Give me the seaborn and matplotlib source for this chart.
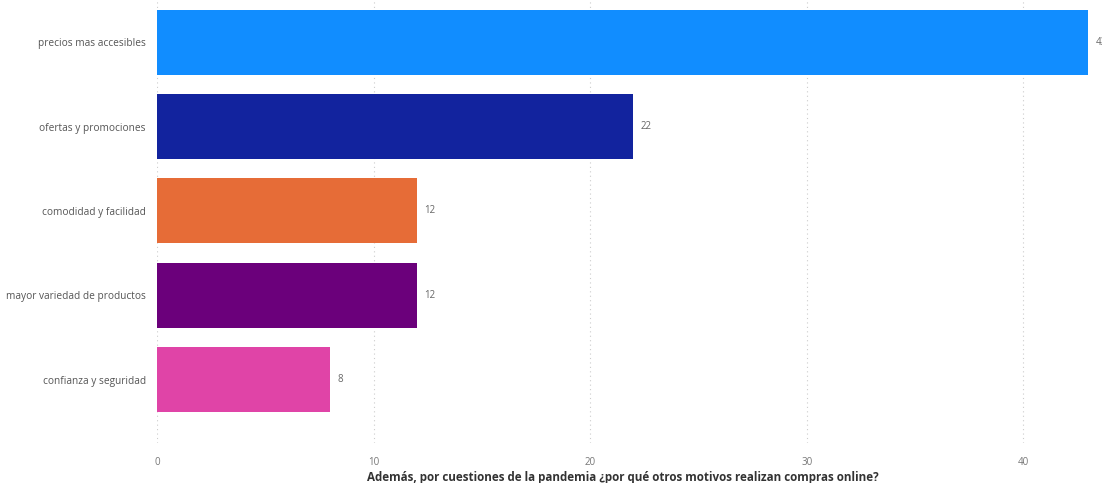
import matplotlib
matplotlib.use("Agg")

import matplotlib.pyplot as plt
import seaborn as sns
import pandas as pd


# =====================================
# DATA
# =====================================

motivos = [
    "precios mas accesibles",
    "ofertas y promociones",
    "comodidad y facilidad",
    "mayor variedad de productos",
    "confianza y seguridad"
]

cantidades = [43, 22, 12, 12, 8]

colores = ["#118DFF", "#12239E", "#E66C37", "#6B007B", "#E044A7"]

x_ticks = [0, 10, 20, 30, 40]

x_label = "Además, por cuestiones de la pandemia ¿por qué otros motivos realizan compras online?"

df = pd.DataFrame({"motivo": motivos, "cantidad": cantidades})


# =====================================
# PLOT
# =====================================

sns.set_style("white")
plt.rcParams["font.family"] = ["Open Sans", "DejaVu Sans"]

fig = plt.figure(figsize=(11.02, 4.83), dpi=100)
ax = fig.add_axes([0.1425, 0.083, 0.845, 0.917])

sns.barplot(
    data=df,
    x="cantidad",
    y="motivo",
    hue="motivo",
    palette=colores,
    orient="h",
    width=0.77,
    legend=False,
    saturation=1,
    linewidth=0,
    ax=ax
)

# value labels (the top one runs off the right edge, as in the source)
for i, v in enumerate(cantidades):
    ax.text(
        v + 0.35, i, str(v),
        va="center", ha="left",
        fontsize=7, color="#666666",
        clip_on=False
    )

ax.set_xlim(0, 43)
ax.set_ylim(4.75, -0.5)
ax.set_xticks(x_ticks)
ax.xaxis.grid(True, linestyle=(0, (1, 3)), color="#cccccc", linewidth=0.8)
ax.set_axisbelow(True)

for s in ax.spines.values():
    s.set_visible(False)

ax.tick_params(axis="x", colors="#777777", labelsize=7, length=0, pad=10)
ax.tick_params(axis="y", colors="#555555", labelsize=7.3, length=0, pad=8)

ax.set_ylabel("")
ax.set_xlabel(x_label, fontsize=8.4, fontweight="bold", color="#333333", labelpad=2)

plt.savefig("out.png", dpi=100)
plt.close()
